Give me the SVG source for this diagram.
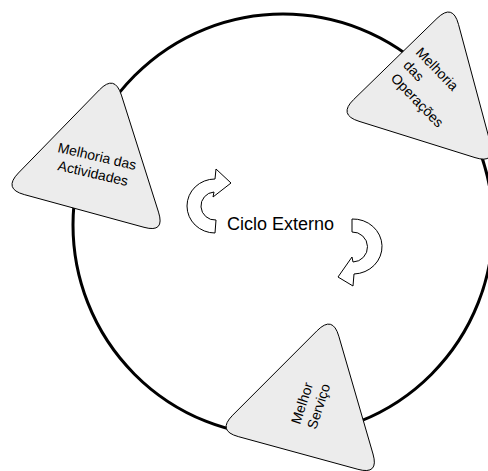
<svg xmlns="http://www.w3.org/2000/svg" width="488" height="471" viewBox="0 0 488 471">
  <style>
    .ring { fill: none; stroke: #000; stroke-width: 3; }
    .tri { fill: #ececec; stroke: #000; stroke-width: 1; stroke-linejoin: round; }
    .turn { fill: #fff; stroke: #000; stroke-width: 1; stroke-linejoin: miter; }
    .lbl { font-family: "Liberation Sans", Arial, sans-serif; font-size: 14px; fill: #000; }
    .title { font-family: "Liberation Sans", Arial, sans-serif; font-size: 18px; fill: #000; }
  </style>

  <!-- outer cycle -->
  <g id="connectors">
    <ellipse class="ring" cx="283" cy="225" rx="210" ry="211"/>
  </g>

  <!-- rounded triangles placed on the cycle -->
  <g id="node-operacoes">
    <path class="tri" d="M437,18.4 L353.8,99.4 Q338,114.7 359,121.3 L475,157.6 Q496,164.2 490.3,142.9 L458.5,24.4 Q452.8,3.1 437,18.4 Z"/>
    <text class="lbl" transform="translate(415,53) rotate(46)">Melhoria</text>
    <text class="lbl" transform="translate(402.5,66) rotate(46)">das</text>
    <text class="lbl" transform="translate(390,79) rotate(46)">Operações</text>
  </g>

  <g id="node-actividades">
    <path class="tri" d="M99.4,89.9 L18.4,173 Q3.1,188.8 24.3,194.6 L144,227.3 Q165.2,233.1 158.5,212.1 L121.4,95.1 Q114.7,74.1 99.4,89.9 Z"/>
    <text class="lbl" text-anchor="middle" transform="translate(96,161) rotate(13)">Melhoria das</text>
    <text class="lbl" text-anchor="middle" transform="translate(92,178) rotate(13)">Actividades</text>
  </g>

  <g id="node-servico">
    <path class="tri" d="M317.1,330.7 L232.7,415.2 Q217.1,430.8 238.3,436.6 L357.9,469.3 Q379.1,475.1 373,454 L338.8,336.2 Q332.7,315.1 317.1,330.7 Z"/>
    <text class="lbl" transform="translate(300,425) rotate(-72)">Melhor</text>
    <text class="lbl" transform="translate(316,430) rotate(-72)">Serviço</text>
  </g>

  <!-- centre: turning arrows and caption -->
  <g id="centre">
    <path class="turn" d="M215,233 A28,27 0 0 1 215,179 L216,169 L231,183 L213,197 L214,192 A14,14 0 0 0 216,220 Z"/>
    <path class="turn" d="M352,219 A29,27.5 0 0 1 354,274 L353,286 L338,277 L352,257 L353,262 A15,15 0 0 0 352,232 Z"/>
    <text class="title" x="227" y="230">Ciclo Externo</text>
  </g>
</svg>
